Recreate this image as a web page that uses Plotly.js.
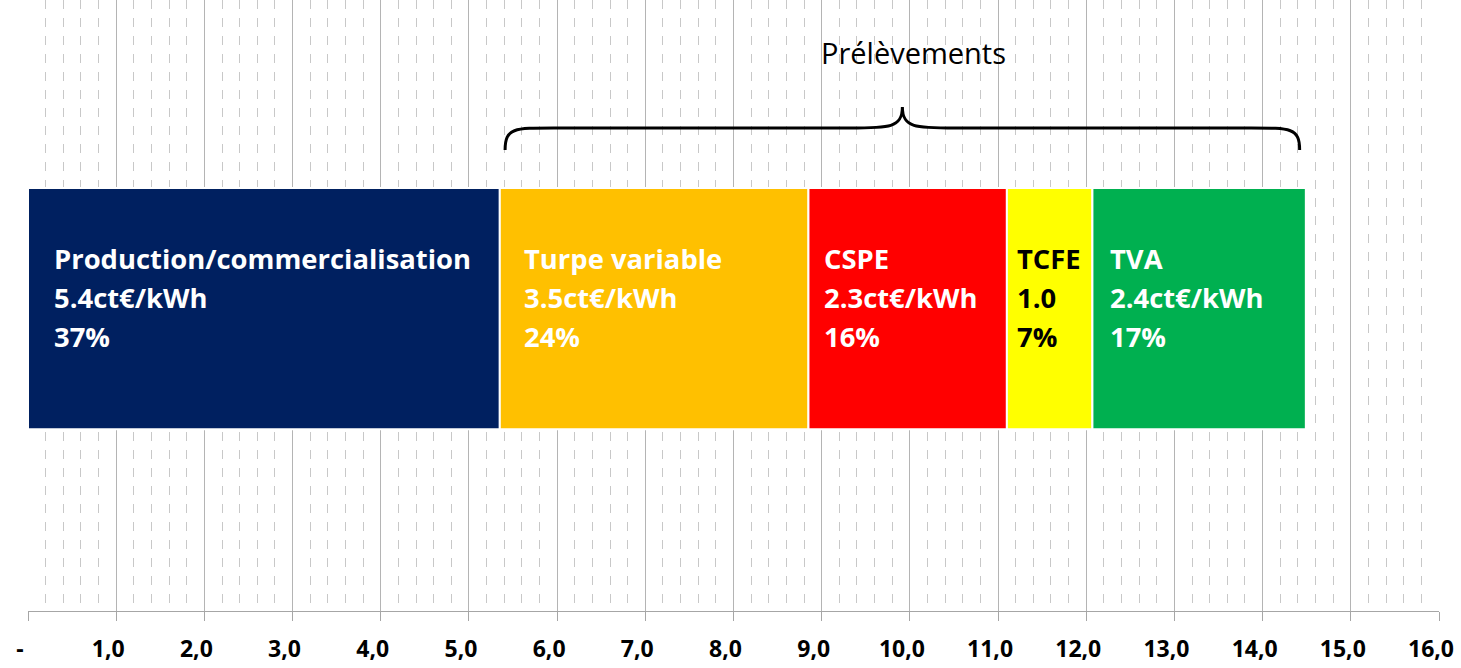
<!DOCTYPE html>
<html><head><meta charset="utf-8">
<script src="https://cdn.plot.ly/plotly-3.0.1.min.js"></script>
<style>html,body{margin:0;padding:0;background:#fff}#chart{width:1461px;height:668px}</style>
</head><body><div id="chart"></div>
<script>
// ---- data ----
const components = ["Production/commercialisation", "Turpe variable", "CSPE", "TCFE", "TVA"];
const values = [5.35, 3.5, 2.25, 0.97, 2.42];          // ct€/kWh (bar widths)
const valueLabels = ["5.4ct€/kWh", "3.5ct€/kWh", "2.3ct€/kWh", "1.0", "2.4ct€/kWh"];
const shareLabels = ["37%", "24%", "16%", "7%", "17%"];
const tickValues = [0,1,2,3,4,5,6,7,8,9,10,11,12,13,14,15,16];
const tickLabels = ["-","1,0","2,0","3,0","4,0","5,0","6,0","7,0","8,0","9,0","10,0","11,0","12,0","13,0","14,0","15,0","16,0"];
const groupTitle = "Prélèvements";

// ---- styles ----
const colors = ["#002060", "#FFC000", "#FF0000", "#FFFF00", "#00B050"];
const textColors = ["#ffffff", "#ffffff", "#ffffff", "#000000", "#ffffff"];
const labelPad = [24, 22, 14, 8, 16];
const FONT = "'Open Sans', Lato, sans-serif";

const starts = [];
let acc = 0;
values.forEach(v => { starts.push(acc); acc += v; });
const total = acc;

const traces = components.map((name, i) => ({
  type: "bar", orientation: "h", name: name,
  x: [values[i]], y: [0], base: [starts[i]], width: 0.79,
  marker: { color: colors[i], line: { color: "#ffffff", width: 2 } },
  hoverinfo: "skip", showlegend: false
}));

const annotations = [];
components.forEach((name, i) => {
  const lines = [name, valueLabels[i], shareLabels[i]];
  const shifts = [50, 11, -28];
  lines.forEach((t, k) => annotations.push({
    xref: "x", yref: "y", x: starts[i], y: 0, xanchor: "left", yanchor: "middle",
    xshift: labelPad[i], yshift: shifts[k], showarrow: false, text: "<b>" + t + "</b>",
    font: { family: FONT, size: 27.4, color: textColors[i] }
  }));
});

// brace over the "prélèvements" components (all but the first)
const bx0 = starts[1] + 0.06, bx1 = total - 0.07, bm = (bx0 + bx1) / 2;
const yE = 1 - 150/611, yM = 1 - 128/611, yT = 1 - 107/611;
const bracePath = `M ${bx0},${yE} C ${bx0},${yM} ${bx0+0.1},${yM} ${bx0+0.55},${yM} ` +
  `L ${bm-0.6},${yM} C ${bm-0.15},${yM} ${bm},${yM} ${bm},${yT} ` +
  `C ${bm},${yM} ${bm+0.15},${yM} ${bm+0.6},${yM} ` +
  `L ${bx1-0.55},${yM} C ${bx1-0.1},${yM} ${bx1},${yM} ${bx1},${yE}`;

annotations.push({
  xref: "x", yref: "paper", x: bm, y: 1 - 52/611, xanchor: "center", yanchor: "middle",
  xshift: 11, showarrow: false, text: groupTitle, font: { family: FONT, size: 29, color: "#000" }
});

const layout = {
  width: 1461, height: 668,
  margin: { l: 28, r: 22, t: 0, b: 57 },
  paper_bgcolor: "#fff", plot_bgcolor: "#fff",
  barmode: "overlay",
  xaxis: {
    range: [0, 16], tickvals: tickValues, ticktext: tickLabels,
    showgrid: true, gridcolor: "#b4b4b4", gridwidth: 1,
    minor: { dtick: 0.2, showgrid: true, gridcolor: "#c8c8c8", griddash: "dash", gridwidth: 1, ticks: "" },
    ticks: "outside", ticklen: 9, tickcolor: "#a6a6a6", tickwidth: 1,
    showline: true, linecolor: "#a6a6a6", linewidth: 1,
    zeroline: false, fixedrange: true,
    ticklabelstandoff: 8, ticklabelshift: -8,
    tickfont: { family: FONT, size: 23, color: "#000", weight: "bold" }
  },
  yaxis: { range: [-0.99, 1.01], visible: false, showgrid: false, zeroline: false, fixedrange: true },
  shapes: [{ type: "path", xref: "x", yref: "paper", path: bracePath,
             line: { color: "#000", width: 3 }, fillcolor: "rgba(0,0,0,0)" }],
  annotations: annotations,
  showlegend: false
};

Plotly.newPlot("chart", traces, layout, { displayModeBar: false, staticPlot: true });
</script></body></html>
